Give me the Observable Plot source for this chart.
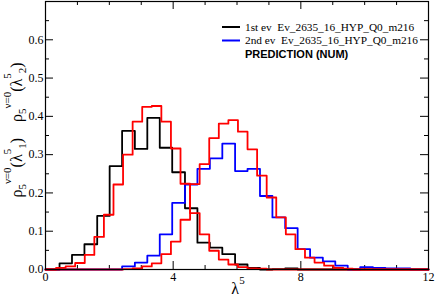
<!DOCTYPE html>
<html><head><meta charset="utf-8">
<script src="https://cdn.jsdelivr.net/npm/d3@7"></script>
<script src="https://cdn.jsdelivr.net/npm/@observablehq/plot@0.6"></script>
<style>body{margin:0;background:#fff} svg{display:block}</style>
</head><body><div id="chart"></div>
<script>
// ---- data ----
const blackEdges = [0.44,0.83,1.22,1.62,2.01,2.40,2.80,3.19,3.58,3.97,4.37,4.76,5.15,5.54,5.94,6.33,6.72,7.11,7.51,7.90];
const blackValues = [0.016,0.038,0.066,0.140,0.270,0.362,0.315,0.396,0.318,0.254,0.160,0.070,0.057,0.040,0.013,0.004,0.000,0.001,0.003];

const blueEdges = [2.40,2.80,3.19,3.58,3.97,4.37,4.76,5.15,5.54,5.94,6.33,6.72,7.11,7.51,7.90,8.29,8.69,9.08,9.47,9.86,10.26,10.65,11.04,11.43];
const blueValues = [0.008,0.018,0.036,0.092,0.174,0.222,0.263,0.290,0.329,0.257,0.263,0.192,0.136,0.108,0.053,0.031,0.021,0.010,0.000,0.006,0.004,0.003,0.003];

const red1Edges = [0.33,0.63,0.93,1.23,1.53,1.83,2.13,2.43,2.73,3.03,3.33,3.63,3.93,4.23,4.53,4.83,5.13,5.43,5.73,6.03,6.33,6.63,6.93];
const red1Values = [0.004,0.008,0.017,0.038,0.085,0.143,0.222,0.300,0.386,0.425,0.427,0.386,0.316,0.224,0.147,0.092,0.049,0.026,0.013,0.006,0.003,0.002];

const red2Edges = [2.43,2.73,3.03,3.33,3.63,3.93,4.23,4.53,4.83,5.13,5.43,5.73,6.03,6.33,6.63,6.93,7.23,7.53,7.83,8.13,8.43,8.73,9.03,9.33,9.63];
const red2Values = [0.001,0.003,0.008,0.016,0.040,0.073,0.130,0.223,0.275,0.343,0.381,0.390,0.360,0.314,0.245,0.188,0.136,0.092,0.053,0.031,0.018,0.010,0.004,0.002];

const xDomain = [0, 12];
const yDomain = [0, 0.7];
const xMajorTicks = [0, 4, 8, 12];
const xMinorTicks = [1, 2, 3, 5, 6, 7, 9, 10, 11];
const yMajorTicks = [0, 0.1, 0.2, 0.3, 0.4, 0.5, 0.6];
const yMinorTicks = [0.05, 0.15, 0.25, 0.35, 0.45, 0.55, 0.65];

const legendLabels = ["1st ev  Ev_2635_16_HYP_Q0_m216", "2nd ev  Ev_2635_16_HYP_Q0_m216", "PREDICTION (NUM)"];

// ---- build step outlines ----
function histPoints(edges, values) {
  const pts = [{x: xDomain[0], y: 0}];
  edges.forEach((e, i) => pts.push({x: e, y: i < values.length ? values[i] : 0}));
  pts.push({x: xDomain[1], y: 0});
  return pts;
}

const W = 436, H = 303;
const mL = 45, mR = 8, mT = 1, mB = 34;
const plotW = W - mL - mR, plotH = H - mT - mB;
const majLen = 8, minLen = 4;
const serif = "'Liberation Serif', 'Times New Roman', serif";

const lineOpts = {x: "x", y: "y", curve: "step-after", strokeWidth: 1.8};

const chart = Plot.plot({
  width: W, height: H,
  marginLeft: mL, marginRight: mR, marginTop: mT, marginBottom: mB,
  style: {fontFamily: serif, fontSize: "12px", background: "white", color: "black"},
  x: {domain: xDomain},
  y: {domain: yDomain},
  marks: [
    Plot.axisX(xMajorTicks, {tickSize: 0, tickPadding: 3, label: null, fontSize: 12}),
    Plot.axisY(yMajorTicks, {tickSize: 0, tickPadding: 2, label: null, fontSize: 12}),
    // inward ticks, all four sides
    Plot.tickX(xMajorTicks, {x: d => d, insetTop: plotH - majLen, stroke: "black"}),
    Plot.tickX(xMinorTicks, {x: d => d, insetTop: plotH - minLen, stroke: "black"}),
    Plot.tickX(xMajorTicks, {x: d => d, insetBottom: plotH - majLen, stroke: "black"}),
    Plot.tickX(xMinorTicks, {x: d => d, insetBottom: plotH - minLen, stroke: "black"}),
    Plot.tickY(yMajorTicks, {y: d => d, insetRight: plotW - majLen, stroke: "black"}),
    Plot.tickY(yMinorTicks, {y: d => d, insetRight: plotW - minLen, stroke: "black"}),
    Plot.tickY(yMajorTicks, {y: d => d, insetLeft: plotW - majLen, stroke: "black"}),
    Plot.tickY(yMinorTicks, {y: d => d, insetLeft: plotW - minLen, stroke: "black"}),
    Plot.line(histPoints(blackEdges, blackValues), {...lineOpts, stroke: "black"}),
    Plot.line(histPoints(blueEdges, blueValues), {...lineOpts, stroke: "#0000ff"}),
    Plot.line(histPoints(red1Edges, red1Values), {...lineOpts, stroke: "#ff0000"}),
    Plot.line(histPoints(red2Edges, red2Values), {...lineOpts, stroke: "#ff0000"}),
    Plot.frame({stroke: "black", strokeWidth: 1.2})
  ]
});

const svg = d3.select(chart);
// x axis title: lambda^5
const xt = svg.append("text").attr("x", 238).attr("y", 294)
  .attr("text-anchor", "middle")
  .attr("font-family", serif).attr("font-size", 16).attr("fill", "black");
xt.append("tspan").text("λ");
xt.append("tspan").attr("font-size", 11).attr("dy", -10).text("5");

// y axis title (rotated)
const yt = svg.append("text")
  .attr("transform", "translate(22,130) rotate(-90)")
  .attr("text-anchor", "middle")
  .attr("font-family", serif).attr("font-size", 16).attr("fill", "black")
  .style("white-space", "pre");
function rhoLabel(idx, first) {
  yt.append("tspan").text(first ? "ρ" : "    ρ");
  yt.append("tspan").attr("font-size", 11).attr("dy", 4).text("5");
  yt.append("tspan").attr("font-size", 11).attr("dy", -15).text("ν=0");
  yt.append("tspan").attr("dy", 11).text("(λ");
  yt.append("tspan").attr("font-size", 11).attr("dy", -11).text("5");
  yt.append("tspan").attr("font-size", 11).attr("dy", 15).text(idx);
  yt.append("tspan").attr("dy", -4).text(")");
}
rhoLabel("1", true);
rhoLabel("2", false);

// legend
const lg = svg.append("g");
const legendColors = ["black", "#0000ff"];
const rowsY = [30.5, 44, 57.5];
legendColors.forEach((c, i) => {
  lg.append("line").attr("x1", 222).attr("x2", 240).attr("y1", rowsY[i] - 3.5).attr("y2", rowsY[i] - 3.5)
    .attr("stroke", c).attr("stroke-width", 2);
});
legendLabels.forEach((t, i) => {
  const el = lg.append("text").attr("x", 245).attr("y", rowsY[i])
    .attr("text-anchor", "start")
    .attr("fill", "black").style("white-space", "pre").text(t);
  if (i < 2) el.attr("font-family", serif).attr("font-size", 11.3);
  else el.attr("font-family", "'Liberation Sans', Arial, sans-serif").attr("font-weight", "bold").attr("font-size", 11);
});

document.getElementById("chart").appendChild(chart);
</script>
</body></html>
